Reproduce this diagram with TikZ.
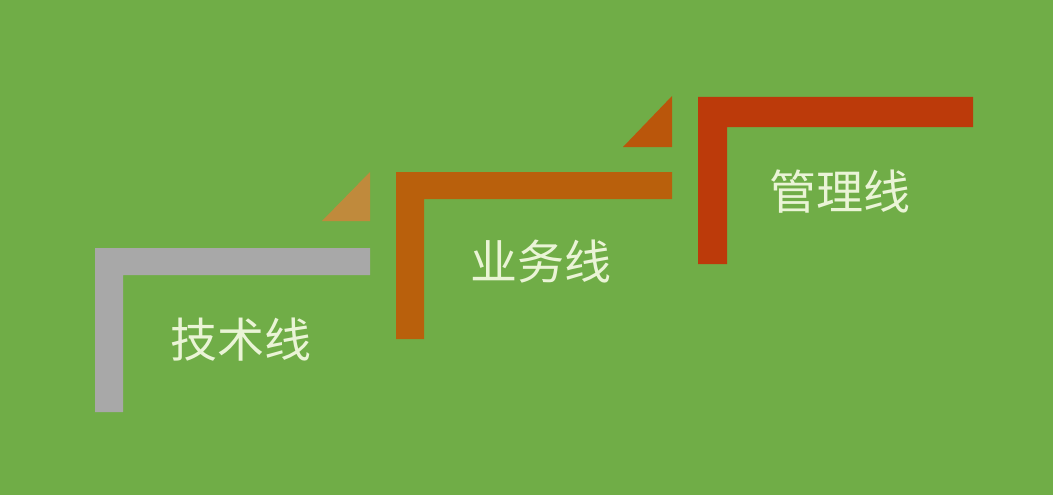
\documentclass[tikz,border=0pt]{standalone}
\usepackage{fontspec}
\newfontfamily\cjk{Noto Sans CJK SC}
\definecolor{bggreen}{HTML}{70AD47}
\definecolor{techgray}{HTML}{A8A8A8}
\definecolor{bizorange}{HTML}{B9600C}
\definecolor{mgmtred}{HTML}{BC3A0A}
\definecolor{tantri}{HTML}{C08A3C}
\definecolor{labelcream}{HTML}{EAF4D6}
\begin{document}
\begin{tikzpicture}[x=1pt,y=-1pt,
    label/.style = {text=labelcream,font=\cjk\fontsize{47}{47}\selectfont,inner sep=0pt}]
                \fill[bggreen] (0,0) rectangle (1053,495);
                \useasboundingbox (0,0) rectangle (1053,495);
                % steps
                \fill[techgray] 
                    (95,248) -- (370,248) -- (370,275) -- (123,275) -- (123,412) -- (95,412) -- cycle;
                \fill[bizorange] 
                    (396,172) -- (672,172) -- (672,199) -- (424,199) -- (424,339) -- (396,339) -- cycle;
                \fill[mgmtred] 
                    (698,97) -- (973,97) -- (973,127) -- (727,127) -- (727,264) -- (698,264) -- cycle;
                % corners
                \fill[tantri] (322,221) -- (370,221) -- (370,172) -- cycle;
                \fill[bizorange!75!mgmtred] (623,147) -- (672,147) -- (672,96) -- cycle;
            
                \node[label] (tech) at (241,340) {技术线};
                \node[label] (biz)  at (541,262) {业务线};
                \node[label] (mgmt) at (840,192) {管理线};
            \end{tikzpicture}
\end{document}
